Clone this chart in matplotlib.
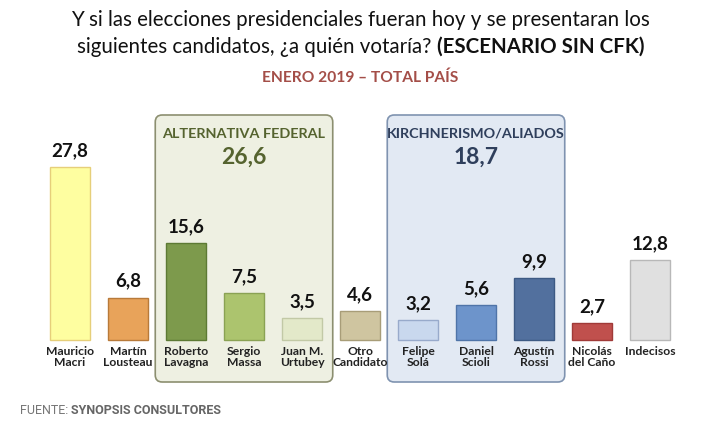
import matplotlib.pyplot as plt
from matplotlib.patches import FancyBboxPatch

plt.rcParams['font.family'] = ['Lato', 'DejaVu Sans']

candidates = ["Mauricio\nMacri", "Martín\nLousteau", "Roberto\nLavagna", "Sergio\nMassa",
              "Juan M.\nUrtubey", "Otro\nCandidato", "Felipe\nSolá", "Daniel\nScioli",
              "Agustín\nRossi", "Nicolás\ndel Caño", "Indecisos"]
values = [27.8, 6.8, 15.6, 7.5, 3.5, 4.6, 3.2, 5.6, 9.9, 2.7, 12.8]
colors = ["#fefea0", "#e8a35a", "#7d9a4c", "#acc46e", "#e3e9c9", "#cfc5a0",
          "#c9d8ee", "#6d94cb", "#52709e", "#c0504d", "#e0e0e0"]
edges = ["#e6cf7a", "#b87a3a", "#5d7a34", "#8aa254", "#c2c9a6", "#a89d78",
         "#98aacb", "#4f74a8", "#3d5a84", "#a03a38", "#b8b8b8"]

groups = ["ALTERNATIVA FEDERAL", "KIRCHNERISMO/ALIADOS"]
group_totals = ["26,6", "18,7"]
group_members = [(2, 4), (6, 8)]
group_face = ["#eef0e2", "#e2e9f3"]
group_edge = ["#8c8f70", "#7f93b0"]
group_text = ["#55632f", "#2f3f5c"]

fig = plt.figure(figsize=(7.21, 4.32), dpi=100)
ax = fig.add_axes([0, 0, 1, 1])
px = 58.0   # pixels per category
py = 6.22   # pixels per unit
ax.set_xlim(-70 / px, 651 / px)
ax.set_ylim(-92 / py, 340 / py)
ax.axis('off')

# group boxes
for g, (a, b) in enumerate(group_members):
    box = FancyBboxPatch((a - 0.53, -42 / py), (b - a) + 1.06, 267 / py,
                         boxstyle="round,pad=0,rounding_size=0.12",
                         mutation_aspect=px / py,
                         facecolor=group_face[g], edgecolor=group_edge[g], lw=1.2, zorder=0)
    ax.add_patch(box)
    xc = (a + b) / 2
    ax.text(xc, 206 / py, groups[g], ha='center', va='center', fontsize=10.4,
            fontweight='bold', color=group_text[g])
    ax.text(xc, 183 / py, group_totals[g], ha='center', va='center', fontsize=16.5,
            fontweight='bold', color=group_text[g])

x = list(range(len(values)))
ax.bar(x, values, width=40 / px, color=colors, edgecolor=edges, lw=1, zorder=2)

for i, v in enumerate(values):
    ax.text(i, v + 8 / py, f"{v:.1f}".replace('.', ','), ha='center', va='bottom',
            fontsize=13.5, fontweight='bold', color='#111111')
    ax.text(i, -6 / py, candidates[i], ha='center', va='top', fontsize=8.7,
            fontweight='bold', color='#222222', linespacing=1.05)

title_size = 14.8
fig.text(0.5, 1 - 20 / 432, "Y si las elecciones presidenciales fueran hoy y se presentaran los",
         ha='center', va='center', fontsize=title_size, color='#111111')
t1 = "siguientes candidatos, ¿a quién votaría? "
t2 = "(ESCENARIO SIN CFK)"
r = fig.canvas.get_renderer()
a1 = fig.text(0, 0, t1, fontsize=title_size)
a2 = fig.text(0, 0, t2, fontsize=title_size, fontweight='bold')
w1 = a1.get_window_extent(r).width
w2 = a2.get_window_extent(r).width
a1.remove()
a2.remove()
x0 = (721 - w1 - w2) / 2 / 721
fig.text(x0, 1 - 47 / 432, t1, ha='left', va='center', fontsize=title_size, color='#111111')
fig.text(x0 + w1 / 721, 1 - 47 / 432, t2, ha='left', va='center', fontsize=title_size,
         fontweight='bold', color='#111111')
fig.text(0.5, 1 - 78 / 432, "ENERO 2019 – TOTAL PAÍS", ha='center', va='center',
         fontsize=11.2, fontweight='bold', color='#a44e48')

f1 = fig.text(20 / 721, 1 - 410 / 432, "FUENTE: ", ha='left', va='center', fontsize=9,
              color='#777777', family=['Roboto', 'DejaVu Sans'])
wf = f1.get_window_extent(r).width
fig.text((20 + wf) / 721, 1 - 410 / 432, "SYNOPSIS CONSULTORES", ha='left', va='center',
         fontsize=9, fontweight='bold', color='#666666', family=['Roboto', 'DejaVu Sans'])

fig.savefig("out.png", dpi=100)
